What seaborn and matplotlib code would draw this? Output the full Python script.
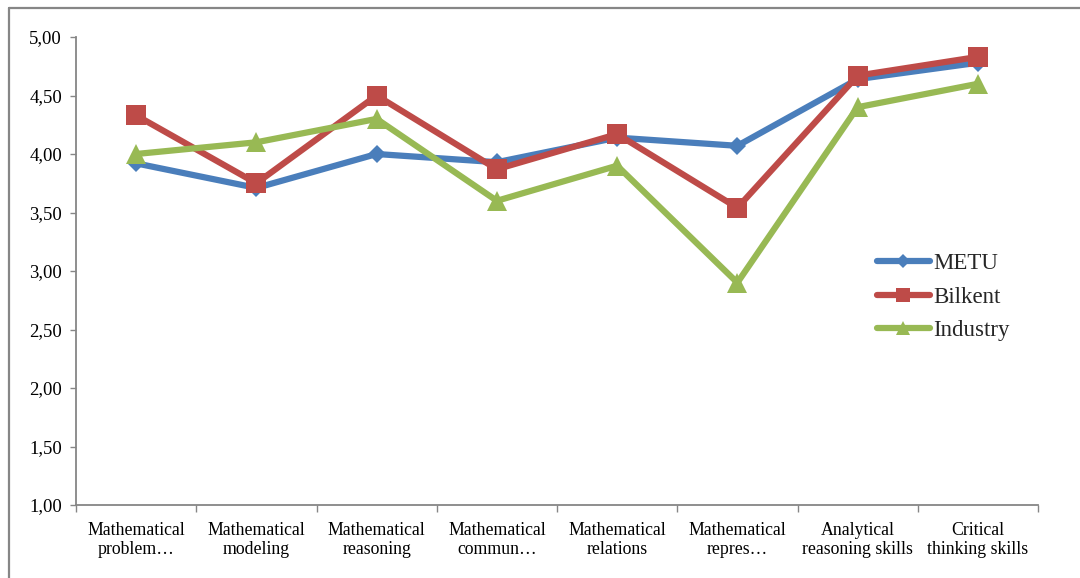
import matplotlib
matplotlib.use("Agg")
import matplotlib.pyplot as plt
from matplotlib.lines import Line2D
from matplotlib.ticker import FixedLocator, FuncFormatter
import seaborn as sns

# Skill categories and mean ratings per group
categories = [
    "Mathematical\nproblem…",
    "Mathematical\nmodeling",
    "Mathematical\nreasoning",
    "Mathematical\ncommun…",
    "Mathematical\nrelations",
    "Mathematical\nrepres…",
    "Analytical\nreasoning skills",
    "Critical\nthinking skills",
]
metu = [3.92, 3.71, 4.00, 3.93, 4.14, 4.07, 4.64, 4.78]
bilkent = [4.33, 3.75, 4.50, 3.87, 4.17, 3.54, 4.67, 4.83]
industry = [4.00, 4.10, 4.30, 3.60, 3.90, 2.90, 4.40, 4.60]
series_names = ["METU", "Bilkent", "Industry"]
y_ticks = [1.00, 1.50, 2.00, 2.50, 3.00, 3.50, 4.00, 4.50, 5.00]

sns.set_theme(style="white")
plt.rcParams["font.family"] = ["Liberation Serif", "DejaVu Serif"]

GRAY = "#868686"
styles = [
    dict(color="#4A7EBB", marker="D", markersize=9.5),
    dict(color="#BE4B48", marker="s", markersize=14),
    dict(color="#98B954", marker="^", markersize=15),
]

fig = plt.figure(figsize=(10.8, 5.78), dpi=100)
ax = fig.add_axes([76 / 1080, 1 - 505 / 578, (1038 - 76) / 1080, (505 - 37) / 578])

for name, vals, st in zip(series_names, [metu, bilkent, industry], styles):
    sns.lineplot(
        x=categories, y=vals, ax=ax, sort=False, label=name,
        color=st["color"], marker=st["marker"], markersize=st["markersize"],
        markeredgecolor=st["color"], markeredgewidth=0,
        linewidth=4.5, solid_joinstyle="round", solid_capstyle="round",
    )

ax.set_xlim(-0.5, len(categories) - 0.5)
ax.set_ylim(1.0, 5.0)
ax.set_xlabel("")
ax.set_ylabel("")

ax.yaxis.set_major_locator(FixedLocator(y_ticks))
ax.yaxis.set_major_formatter(FuncFormatter(lambda v, p: f"{v:.2f}".replace(".", ",")))
ax.tick_params(axis="y", which="major", left=True, length=4, width=1, color=GRAY,
               pad=6, labelsize=13.5, labelcolor="black")

ax.set_xticks(range(len(categories)))
ax.set_xticklabels(categories, linespacing=1.2)
ax.set_xticks([i - 0.5 for i in range(len(categories) + 1)], minor=True)
ax.tick_params(axis="x", which="major", bottom=True, length=0, pad=12,
               labelsize=12.8, labelcolor="black")
ax.tick_params(axis="x", which="minor", bottom=True, length=5, width=1, color=GRAY)

for side in ("top", "right"):
    ax.spines[side].set_visible(False)
for side in ("left", "bottom"):
    ax.spines[side].set_color(GRAY)
    ax.spines[side].set_linewidth(1.3)

leg = ax.legend(
    loc="center left", bbox_to_anchor=(877 / 1080, 1 - 297 / 578),
    bbox_transform=fig.transFigure, frameon=False, fontsize=16.5,
    handlelength=2.3, handletextpad=0.15, labelspacing=0.53,
    borderpad=0, borderaxespad=0,
)
for h, ms in zip(leg.get_lines(), [7, 9.5, 10]):
    h.set_markersize(ms)
    h.set_linewidth(4.5)
    h.set_solid_capstyle("round")

# Outer chart frame (top and left edges)
fig.add_artist(Line2D([9 / 1080, 1.0], [1 - 8 / 578, 1 - 8 / 578],
                      transform=fig.transFigure, color=GRAY, linewidth=1.6))
fig.add_artist(Line2D([9 / 1080, 9 / 1080], [0.0, 1 - 8 / 578],
                      transform=fig.transFigure, color=GRAY, linewidth=1.6))

fig.savefig("out.png", dpi=100, facecolor="white")
